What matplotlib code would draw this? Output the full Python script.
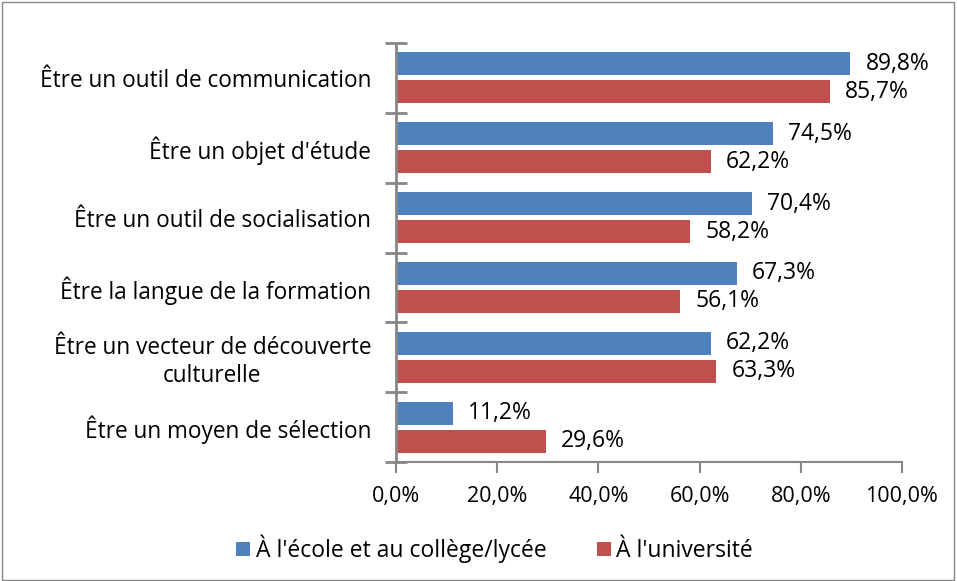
import matplotlib
matplotlib.use("Agg")
import matplotlib.pyplot as plt
import numpy as np
from matplotlib.patches import Rectangle

categories = ["Être un outil de communication", "Être un objet d'étude",
              "Être un outil de socialisation", "Être la langue de la formation",
              "Être un vecteur de découverte\nculturelle", "Être un moyen de sélection"]
ecole = [89.8, 74.5, 70.4, 67.3, 62.2, 11.2]
universite = [85.7, 62.2, 58.2, 56.1, 63.3, 29.6]
series_names = ["À l'école et au collège/lycée", "À l'université"]
xticks = [0, 20, 40, 60, 80, 100]

plt.rcParams['font.family'] = ['Open Sans', 'DejaVu Sans']
blue = "#4F81BD"
red = "#C0504D"
grey = "#868686"

fig = plt.figure(figsize=(9.57, 5.81), dpi=100)
ax = fig.add_axes([0.4138, 0.2048, 0.9425 - 0.4138, 0.926 - 0.2048])

n = len(categories)
y = np.arange(n)
h = 0.33
off = 0.2
ax.barh(y - off, ecole, height=h, color=blue, label=series_names[0])
ax.barh(y + off, universite, height=h, color=red, label=series_names[1])

for yi, v in zip(y - off, ecole):
    ax.text(v + 3.0, yi, f"{v:.1f}%".replace('.', ','), va='center', ha='left', fontsize=16.5)
for yi, v in zip(y + off, universite):
    ax.text(v + 3.0, yi, f"{v:.1f}%".replace('.', ','), va='center', ha='left', fontsize=16.5)

ax.set_xlim(0, 100)
ax.set_ylim(n - 0.5, -0.5)
ax.set_xticks(xticks)
ax.set_xticklabels([f"{t:.1f}%".replace('.', ',') for t in xticks], fontsize=15.5)
ax.set_yticks(y)
ax.set_yticklabels(categories, fontsize=16.3, multialignment='center')
ax.tick_params(axis='y', length=0, pad=18)
ax.set_yticks(np.arange(-0.5, n, 1), minor=True)
ax.tick_params(axis='y', which='minor', direction='inout', length=16, width=2, color=grey)
ax.tick_params(axis='x', direction='out', length=8, width=1.5, color=grey, pad=9)

for s in ['top', 'right']:
    ax.spines[s].set_visible(False)
ax.spines['left'].set_color(grey)
ax.spines['left'].set_linewidth(2)
ax.spines['bottom'].set_color(grey)
ax.spines['bottom'].set_linewidth(1.5)

fig.legend(handles=ax.patches[:1] + ax.patches[n:n + 1], labels=series_names,
           loc='center', bbox_to_anchor=(0.517, 0.055), ncol=2, frameon=False,
           fontsize=16.5, handlelength=0.6, handleheight=0.6, handletextpad=0.25,
           columnspacing=2.2)

fig.patches.append(Rectangle((0.002, 0.002), 0.995, 0.995, transform=fig.transFigure,
                             fill=False, edgecolor=grey, linewidth=1))
fig.savefig("out.png", dpi=100)
